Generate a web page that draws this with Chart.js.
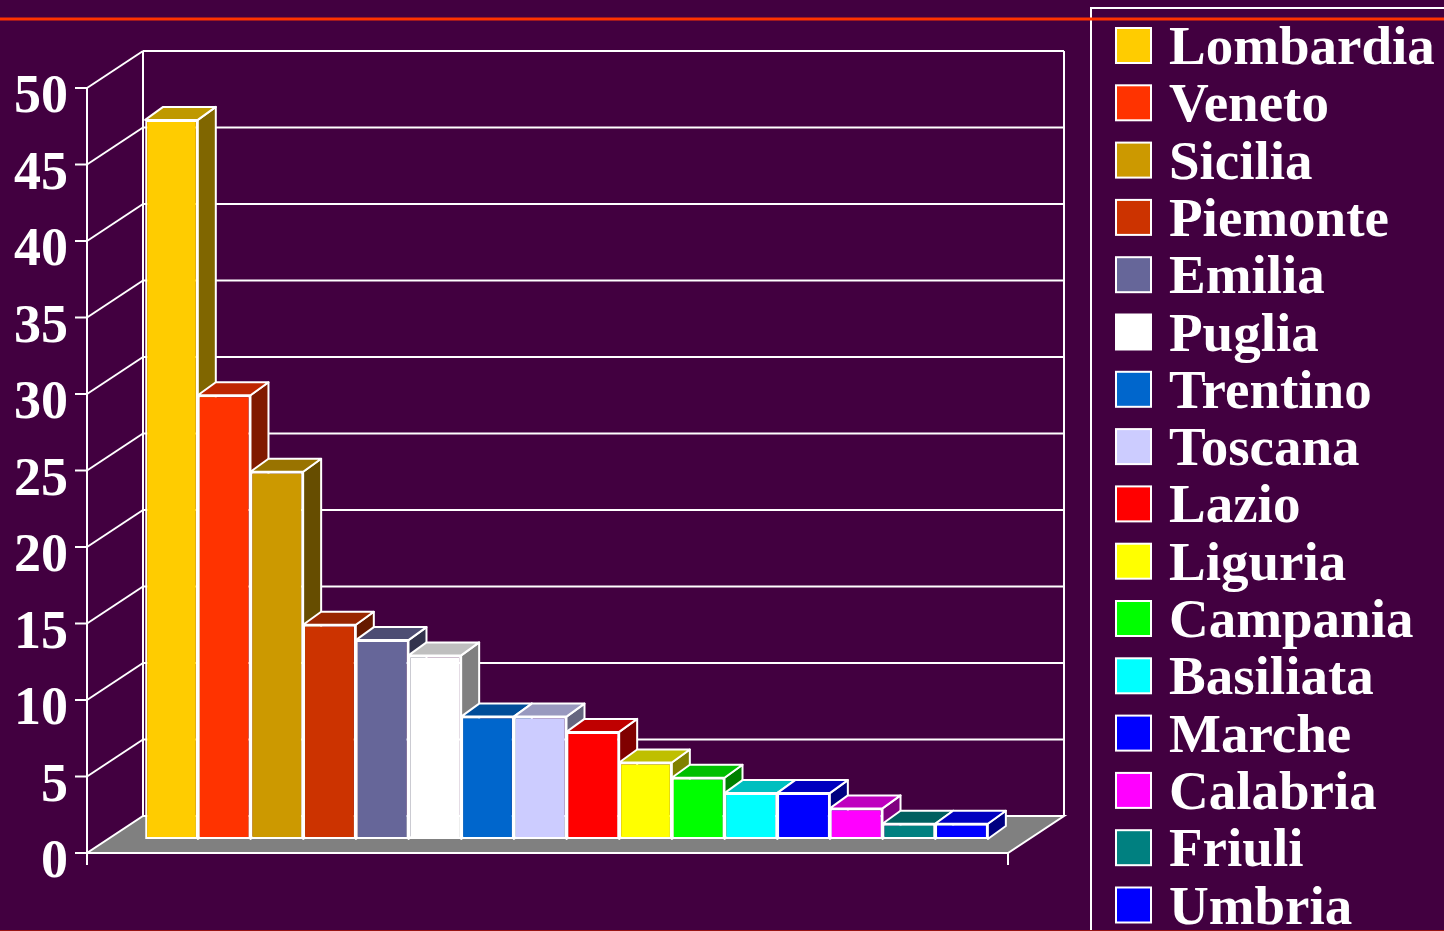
<!DOCTYPE html>
<html>
<head>
<meta charset="utf-8">
<style>
  html, body { margin: 0; padding: 0; background: #420040; overflow: hidden; }
  canvas { display: block; }
</style>
<script src="https://cdn.jsdelivr.net/npm/chart.js@4/dist/chart.umd.min.js"></script>
</head>
<body>
<canvas id="chart" width="1444" height="931"></canvas>
<script>
// Regions and their counts, one series per region
const regions = ['Lombardia', 'Veneto', 'Sicilia', 'Piemonte', 'Emilia', 'Puglia', 'Trentino', 'Toscana',
                 'Lazio', 'Liguria', 'Campania', 'Basiliata', 'Marche', 'Calabria', 'Friuli', 'Umbria'];
const values = [47, 29, 24, 14, 13, 12, 8, 8, 7, 5, 4, 3, 3, 2, 1, 1];
const colors = ['#FFCC00', '#FF3300', '#CC9900', '#CC3300', '#666699', '#FFFFFF', '#0066CC', '#CCCCFF',
                '#FF0000', '#FFFF00', '#00FF00', '#00FFFF', '#0000FF', '#FF00FF', '#008080', '#0000FF'];
const yTicks = [0, 5, 10, 15, 20, 25, 30, 35, 40, 45, 50];

const BG = '#420040';
const SERIF = '"Liberation Serif", "Times New Roman", serif';

// Perspective offsets: bar plane -> front edge, bar plane -> back wall, bar depth
const FRONT = { dx: -19, dy: 14 };
const BACK = { dx: 37, dy: -23 };
const BAR_DEPTH = { dx: 18, dy: -13 };

function shade(hex, f) {
  const n = parseInt(hex.slice(1), 16);
  const r = Math.round(((n >> 16) & 255) * f);
  const g = Math.round(((n >> 8) & 255) * f);
  const b = Math.round((n & 255) * f);
  return `rgb(${r},${g},${b})`;
}

function line(ctx, x1, y1, x2, y2) {
  ctx.beginPath();
  ctx.moveTo(x1, y1);
  ctx.lineTo(x2, y2);
  ctx.stroke();
}

function poly(ctx, pts, fill) {
  ctx.beginPath();
  ctx.moveTo(pts[0][0], pts[0][1]);
  for (let i = 1; i < pts.length; i++) ctx.lineTo(pts[i][0], pts[i][1]);
  ctx.closePath();
  ctx.fillStyle = fill;
  ctx.fill();
  ctx.stroke();
}

// Walls, floor, value axis and tick labels
const scenePlugin = {
  id: 'scene',
  beforeDraw(chart) {
    const { ctx, chartArea: a } = chart;
    const y = chart.scales.y;
    ctx.save();
    ctx.fillStyle = BG;
    ctx.fillRect(0, 0, chart.width, chart.height);

    ctx.strokeStyle = '#FFFFFF';
    ctx.lineWidth = 2;
    const fl = a.left + FRONT.dx, fr = a.right + FRONT.dx;
    const bl = a.left + BACK.dx, br = a.right + BACK.dx;
    const fy = v => y.getPixelForValue(v) + FRONT.dy;
    const by = v => y.getPixelForValue(v) + BACK.dy;
    const vMax = yTicks[yTicks.length - 1];

    // back wall frame and gridlines
    line(ctx, bl, by(vMax), bl, by(0));
    line(ctx, br, by(vMax), br, by(0));
    yTicks.forEach(v => { if (v > 0) line(ctx, bl, by(v), br, by(v)); });

    // side wall diagonals
    yTicks.forEach(v => { if (v > 0) line(ctx, fl, fy(v), bl, by(v)); });

    // floor
    poly(ctx, [[fl, fy(0)], [fr, fy(0)], [br, by(0)], [bl, by(0)]], '#808080');
    line(ctx, fr, fy(0), fr, fy(0) + 12);

    // front value axis with ticks and labels
    line(ctx, fl, fy(vMax), fl, fy(0) + 12);
    ctx.fillStyle = '#FFFFFF';
    ctx.font = `bold 54px ${SERIF}`;
    ctx.textAlign = 'right';
    ctx.textBaseline = 'alphabetic';
    yTicks.forEach(v => {
      line(ctx, fl - 12, fy(v), fl, fy(v));
      ctx.fillText(String(v), fl - 19, fy(v) + 24);
    });
    ctx.restore();
  },
  beforeDatasetsDraw(chart) {
    // top and side faces of every bar, taken from the bar elements
    const { ctx } = chart;
    ctx.save();
    ctx.strokeStyle = '#FFFFFF';
    ctx.lineWidth = 2;
    ctx.lineJoin = 'round';
    chart.data.datasets.forEach((ds, i) => {
      const meta = chart.getDatasetMeta(i);
      meta.data.forEach(bar => {
        const { x, y, base, width } = bar.getProps(['x', 'y', 'base', 'width'], true);
        const l = x - width / 2, r = x + width / 2;
        const { dx, dy } = BAR_DEPTH;
        poly(ctx, [[r, y], [r + dx, y + dy], [r + dx, base + dy], [r, base]], shade(colors[i], 0.5));
        poly(ctx, [[l, y], [l + dx, y + dy], [r + dx, y + dy], [r, y]], shade(colors[i], 0.75));
      });
    });
    ctx.restore();
  },
  afterDraw(chart) {
    const { ctx } = chart;
    ctx.save();
    // legend frame
    ctx.strokeStyle = '#FFFFFF';
    ctx.lineWidth = 2;
    ctx.strokeRect(1091, 8, 400, 1000);

    // legend entries
    ctx.font = `bold 55px ${SERIF}`;
    ctx.textAlign = 'left';
    ctx.textBaseline = 'alphabetic';
    chart.data.datasets.forEach((ds, i) => {
      const top = 28 + i * 57.3;
      ctx.fillStyle = ds.backgroundColor;
      ctx.fillRect(1116, top, 35, 35);
      ctx.strokeRect(1116, top, 35, 35);
      ctx.fillStyle = '#FFFFFF';
      ctx.fillText(ds.label, 1169, top + 36);
    });

    // rules at top and bottom
    ctx.strokeStyle = '#FF3300';
    ctx.lineWidth = 3;
    line(ctx, 0, 19, chart.width, 19);
    ctx.strokeStyle = '#9A1414';
    ctx.lineWidth = 2;
    line(ctx, 0, 931, chart.width, 931);
    ctx.restore();
  }
};

new Chart(document.getElementById('chart'), {
  type: 'bar',
  data: {
    labels: [''],
    datasets: regions.map((r, i) => ({
      label: r,
      data: [values[i]],
      backgroundColor: colors[i],
      borderColor: '#FFFFFF',
      borderWidth: 2,
      borderSkipped: false,
      categoryPercentage: 0.915,
      barPercentage: 1
    }))
  },
  options: {
    responsive: false,
    animation: false,
    devicePixelRatio: 1,
    layout: { padding: { left: 106, right: 417, top: 74, bottom: 92 } },
    scales: {
      x: { display: false, offset: true },
      y: { display: false, min: 0, max: 50 }
    },
    plugins: {
      legend: { display: false },
      tooltip: { enabled: false }
    }
  },
  plugins: [scenePlugin]
});
</script>
</body>
</html>
